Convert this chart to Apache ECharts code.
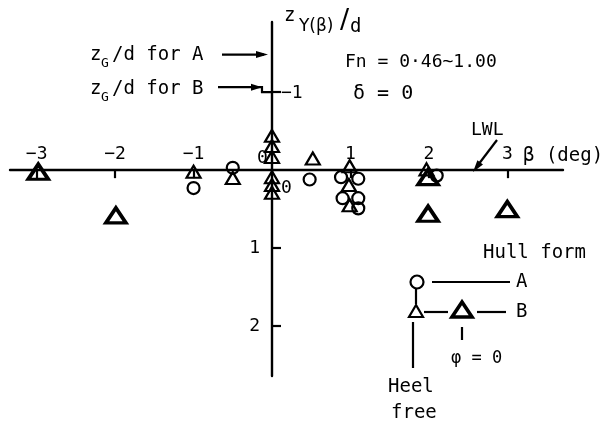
<!DOCTYPE html>
<html>
<head>
<meta charset="utf-8">
<script src="https://cdn.jsdelivr.net/npm/echarts@6/dist/echarts.min.js"></script>
<style>
  html, body { margin: 0; padding: 0; background: #ffffff; }
  #chart { width: 605px; height: 421px; }
</style>
</head>
<body>
<div id="chart"></div>
<script>
// Tick values on both axes
const xTickValues = [-3, -2, -1, 1, 2, 3];
const yTickValues = [-1, 1, 2];
const yLabelValues = [1, 2];

// Measured z_Y(beta)/d against drift angle beta (deg)
const hullAHeelFree = [
  [-1.00, 0.23], [-0.50, -0.03], [0.48, 0.12],
  [0.88, 0.09], [1.10, 0.11], [0.90, 0.36], [1.10, 0.36], [1.10, 0.49],
  [2.10, 0.07]
];
const hullBHeelFree = [
  [-1.00, 0.02], [-0.50, 0.10],
  [0.00, -0.44], [0.00, -0.31], [0.00, -0.17],
  [0.00, 0.09], [0.00, 0.19], [0.00, 0.29],
  [0.52, -0.15],
  [0.99, -0.05], [0.98, 0.19], [0.99, 0.45],
  [1.97, -0.01]
];
const hullBFixed = [
  [-2.98, 0.02], [-1.99, 0.58], [1.99, 0.56], [3.00, 0.50], [1.99, 0.09]
];

// Vertical position of the centre of gravity for each hull form
const zGOverD = { A: -1.47, B: -1.0 };

const FONT = 'DejaVu Sans Mono';
const INK = '#000000';

// Plot area and axis ranges; the axes cross at the origin
const GRID = { left: 10, right: 42, top: 22, bottom: 45 };
const W = 605, H = 421;
const X_RANGE = [-3.34, 3.71];
const Y_RANGE = [-1.9, 2.64];   // drawn downward (inverted)
const plotW = W - GRID.left - GRID.right;
const plotH = H - GRID.top - GRID.bottom;
const zeroX = GRID.left + (0 - X_RANGE[0]) / (X_RANGE[1] - X_RANGE[0]) * plotW;
const zeroY = GRID.top + (0 - Y_RANGE[0]) / (Y_RANGE[1] - Y_RANGE[0]) * plotH;

const chart = echarts.init(document.getElementById('chart'), null, { renderer: 'canvas' });

const markerStyle = (w) => ({ color: 'rgba(255,255,255,0)', borderColor: INK, borderWidth: w, opacity: 1 });

const option = {
  backgroundColor: '#ffffff',
  animation: false,
  grid: Object.assign({ containLabel: false, outerBoundsMode: 'none' }, GRID),
  xAxis: {
    type: 'value',
    position: 'bottom',
    offset: -(H - GRID.bottom - zeroY),
    min: X_RANGE[0],
    max: X_RANGE[1],
    splitLine: { show: false },
    axisLine: { onZero: false, lineStyle: { color: INK, width: 2.4 } },
    axisTick: { customValues: xTickValues, length: 8, lineStyle: { color: INK, width: 2.2 } },
    axisLabel: {
      customValues: xTickValues,
      inside: true,
      margin: 7,
      color: INK,
      fontFamily: FONT,
      fontSize: 18,
      formatter: v => (v < 0 ? '\u2212' + Math.abs(v) : String(v))
    }
  },
  yAxis: {
    type: 'value',
    position: 'left',
    offset: -(zeroX - GRID.left),
    inverse: true,
    min: Y_RANGE[0],
    max: Y_RANGE[1],
    splitLine: { show: false },
    axisLine: { onZero: false, lineStyle: { color: INK, width: 2.4 } },
    axisTick: { customValues: yTickValues, inside: true, length: 9, lineStyle: { color: INK, width: 2.2 } },
    axisLabel: {
      customValues: yLabelValues,
      margin: 12,
      color: INK,
      fontFamily: FONT,
      fontSize: 18
    }
  },
  series: [
    {
      name: 'Hull B, heel free',
      type: 'scatter',
      data: hullBHeelFree,
      symbol: 'triangle',
      symbolSize: [14, 12],
      itemStyle: markerStyle(2.2),
      emphasis: { disabled: true },
      z: 3
    },
    {
      name: 'Hull B, phi = 0',
      type: 'scatter',
      data: hullBFixed,
      symbol: 'triangle',
      symbolSize: [20, 15],
      itemStyle: markerStyle(3.6),
      emphasis: { disabled: true },
      z: 3
    },
    {
      name: 'Hull A, heel free',
      type: 'scatter',
      data: hullAHeelFree,
      symbol: 'circle',
      symbolSize: 12,
      itemStyle: markerStyle(2.2),
      emphasis: { disabled: true },
      z: 4
    }
  ]
};

chart.setOption(option);

// Annotations placed relative to the axes
const px = (x, y) => chart.convertToPixel({ gridIndex: 0 }, [x, y]);
const origin = px(0, 0);
const yA = px(0, zGOverD.A)[1];
const yB = px(0, zGOverD.B)[1];

function txt(x, y, s, size, family) {
  return {
    type: 'text', x: x, y: y,
    style: { text: s, fill: INK, font: (size || 18) + 'px "' + (family || FONT) + '"', textAlign: 'left', textVerticalAlign: 'middle' },
    z: 10
  };
}
function line(points, w) {
  return { type: 'polyline', shape: { points: points }, style: { stroke: INK, lineWidth: w || 2.2, fill: null }, z: 10 };
}
function head(tipX, tipY, dx, dy, len, half) {
  // filled arrowhead pointing along (dx, dy)
  const n = Math.hypot(dx, dy); const ux = dx / n, uy = dy / n;
  const bx = tipX - ux * len, by = tipY - uy * len;
  return { type: 'polygon', shape: { points: [[tipX, tipY], [bx - uy * half, by + ux * half], [bx + uy * half, by - ux * half]] },
           style: { fill: INK }, z: 10 };
}

const ax = origin[0];
const ay = origin[1];
const graphics = [
  // vertical axis title z_Y(beta)/d
  txt(ax + 12, 16, 'z', 19),
  txt(ax + 27, 27, 'Y(\u03b2)', 17, 'DejaVu Sans'),
  txt(ax + 68, 21, '/', 27, 'DejaVu Sans'),
  txt(ax + 78, 27, 'd', 19),
  // conditions
  txt(345, 62, 'Fn = 0\u00b746~1.00', 18),
  txt(353, 94, '\u03b4 = 0', 20),
  // horizontal axis title
  txt(523, 156, '\u03b2 (deg)', 19),
  // zero and -1 labels at the crossing
  txt(ax - 15, ay - 12, '0', 18),
  txt(ax + 9, ay + 18, '0', 18),
  txt(ax + 9, yB + 1, '\u22121', 18),
  // centre of gravity markers
  txt(90, yA, 'z', 19), txt(101, yA + 8, 'G', 13), txt(112, yA, '/d for A', 19),
  line([[222, yA - 1], [ax - 8, yA - 1]]),
  head(ax - 4, yA - 1, 1, 0, 12, 3.5),
  txt(90, yB - 3, 'z', 19), txt(101, yB + 5, 'G', 13), txt(112, yB - 3, '/d for B', 19),
  line([[218, yB - 5], [ax - 10, yB - 5], [ax - 10, yB], [ax, yB]]),
  head(ax - 10, yB - 5, 1, 0, 11, 3.5),
  // waterline label
  txt(471, 130, 'LWL', 18),
  line([[497, 140], [478, 165]]),
  head(473, 172, -24, 32, 12, 3.5),
  // key to the symbols
  txt(483, 253, 'Hull form', 19),
  { type: 'circle', shape: { cx: 417, cy: 282, r: 6.5 }, style: { fill: 'none', stroke: INK, lineWidth: 2.2 }, z: 10 },
  line([[432, 282], [510, 282]]),
  txt(516, 282, 'A', 19),
  line([[416, 289], [416, 304]]),
  { type: 'polygon', shape: { points: [[416, 305], [409, 317], [423, 317]] }, style: { fill: 'none', stroke: INK, lineWidth: 2.2 }, z: 10 },
  line([[424, 312], [448, 312]]),
  { type: 'polygon', shape: { points: [[462, 302], [452, 317], [472, 317]] }, style: { fill: 'none', stroke: INK, lineWidth: 3.6 }, z: 10 },
  line([[477, 312], [506, 312]]),
  txt(516, 312, 'B', 19),
  line([[462, 327], [462, 340]]),
  txt(451, 359, '\u03c6 = 0', 17),
  line([[413, 322], [413, 368]]),
  txt(388, 387, 'Heel', 19),
  txt(391, 413, 'free', 19)
];

chart.setOption({ graphic: { elements: graphics } });
</script>
</body>
</html>
